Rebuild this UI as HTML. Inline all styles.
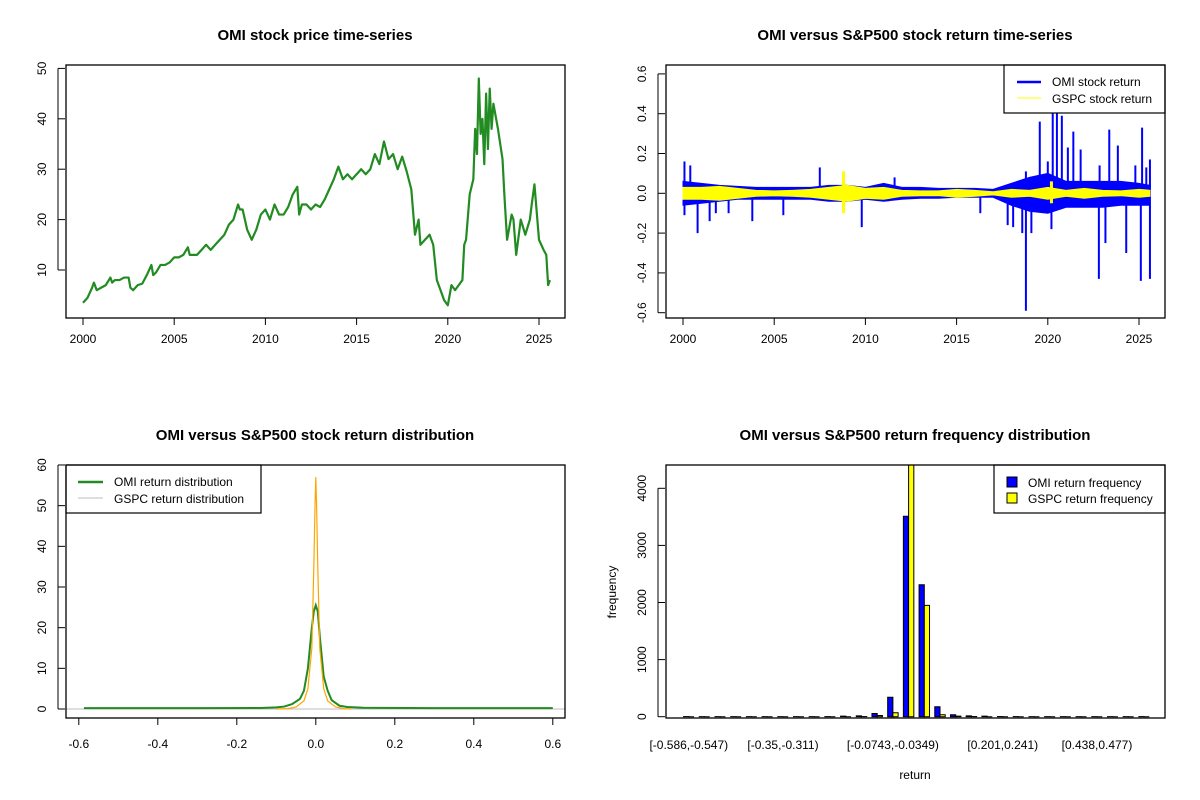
<!DOCTYPE html>
<html><head><meta charset="utf-8"><style>
html,body{margin:0;padding:0;background:#fff;}
svg{display:block;font-family:"Liberation Sans",Arial,sans-serif;}
</style></head><body>
<svg id="fig" width="1200" height="800" viewBox="0 0 1200 800" xmlns="http://www.w3.org/2000/svg">
<rect width="1200" height="800" fill="#fff"/>
</svg>
<script>
// ---------- DATA ----------
const priceYears = [2000,2000.25,2000.5,2000.6,2000.75,2001,2001.25,2001.5,2001.6,2001.75,2002,2002.25,2002.5,2002.6,2002.75,2003,2003.25,2003.5,2003.75,2003.85,2004,2004.25,2004.5,2004.75,2005,2005.25,2005.5,2005.75,2005.85,2006,2006.25,2006.5,2006.75,2007,2007.25,2007.5,2007.75,2008,2008.25,2008.5,2008.6,2008.75,2009,2009.25,2009.5,2009.75,2010,2010.25,2010.5,2010.75,2011,2011.25,2011.5,2011.75,2011.85,2012,2012.25,2012.5,2012.75,2013,2013.25,2013.5,2013.75,2014,2014.25,2014.5,2014.75,2015,2015.25,2015.5,2015.75,2016,2016.25,2016.5,2016.75,2017,2017.25,2017.5,2017.75,2018,2018.2,2018.4,2018.5,2018.75,2019,2019.2,2019.4,2019.6,2019.8,2020,2020.2,2020.4,2020.6,2020.8,2020.9,2021,2021.2,2021.4,2021.5,2021.6,2021.7,2021.8,2021.9,2022,2022.1,2022.2,2022.3,2022.4,2022.5,2022.75,2023,2023.1,2023.25,2023.5,2023.6,2023.75,2024,2024.25,2024.5,2024.6,2024.75,2025,2025.25,2025.4,2025.5,2025.6];
const priceValues = [3.5,4.5,6.5,7.5,6,6.5,7,8.5,7.5,8,8,8.5,8.5,6.5,6,7,7.3,9,11,9,9.5,11,11,11.5,12.5,12.5,13,14.5,13,13,13,14,15,14,15,16,17,19,20,23,22,22,18,16,18,21,22,20,23,21,21,22.5,25,26.5,21,23,23,22,23,22.5,24,26,28,30.5,28,29,28,29,30,29,30,33,31,35.5,32,33,30,32.5,29.5,26,17,20,15,16,17,15,8,6,4,3,7,6,7,8,15,16,25,28,38,33,48,37,40,31,45,34,46,38,43,38,32,25,16,21,20,13,20,17,20,23,27,16,14,13,7,8,5];
const priceTicksY = [10,20,30,40,50];
const yearTicks = [2000,2005,2010,2015,2020,2025];

const bandYears = [2000,2001,2002,2003,2004,2005,2006,2007,2008,2009,2010,2011,2012,2013,2014,2015,2016,2017,2018,2019,2020,2021,2022,2023,2024,2025,2025.6];
const omiBandUp = [.06,.05,.04,.035,.03,.03,.03,.03,.04,.04,.03,.05,.03,.03,.025,.025,.025,.02,.05,.08,.1,.06,.06,.06,.06,.05,.04];
const omiBandLow = [-.06,-.05,-.04,-.03,-.03,-.03,-.03,-.03,-.04,-.04,-.03,-.04,-.03,-.025,-.025,-.02,-.02,-.02,-.06,-.09,-.1,-.07,-.07,-.07,-.06,-.06,-.06];
const gspcBandAmp = [.03,.03,.035,.025,.015,.012,.015,.02,.03,.04,.025,.03,.015,.012,.012,.02,.015,.008,.02,.015,.03,.015,.025,.015,.012,.02,.015];
const spikeYears = [2000.08,2000.08,2000.4,2000.8,2001.46,2001.8,2002.5,2003.8,2005.5,2007.5,2009.8,2011.6,2016.3,2017.8,2018.1,2018.6,2018.8,2018.8,2019.1,2019.56,2020.0,2020.2,2020.27,2020.5,2020.77,2021.1,2021.4,2021.8,2022.8,2022.84,2023.16,2023.37,2023.84,2024.3,2024.8,2025.1,2025.17,2025.4,2025.6,2025.6];
const spikeValues = [0.16,-0.11,0.14,-0.20,-0.14,-0.10,-0.10,-0.14,-0.11,0.13,-0.17,0.08,-0.10,-0.16,-0.17,-0.20,-0.59,0.11,-0.20,0.36,0.16,-0.18,0.42,0.42,0.39,0.23,0.31,0.22,-0.43,0.14,-0.25,0.32,0.24,-0.30,0.14,-0.44,0.33,0.13,-0.43,0.17];
const gspcSpikeYears = [2008.8,2008.8,2020.2,2020.2];
const gspcSpikeValues = [0.11,-0.10,0.06,-0.05];
const returnTicksY = [-0.6,-0.4,-0.2,0.0,0.2,0.4,0.6];

const omiDensX = [-0.587,-0.3,-0.14,-0.1,-0.08,-0.06,-0.04,-0.03,-0.02,-0.01,-0.005,0,0.005,0.01,0.02,0.03,0.04,0.06,0.08,0.1,0.12,0.3,0.6];
const omiDensY = [0.2,0.2,0.25,0.4,0.6,1.2,2.5,4.5,10,20,24,25.5,24,18,8,4.5,2.2,0.8,0.5,0.4,0.3,0.2,0.2];
const gspcDensX = [-0.1,-0.07,-0.05,-0.03,-0.02,-0.01,-0.005,-0.002,0,0.002,0.005,0.01,0.02,0.03,0.05,0.07,0.09];
const gspcDensY = [0,0.1,0.5,2,5,15,35,50,57,50,35,15,5,2,0.5,0.1,0];
const densTicksX = [-0.6,-0.4,-0.2,0.0,0.2,0.4,0.6];
const densTicksY = [0,10,20,30,40,50,60];

const binLabels = ["[-0.586,-0.547)","[-0.35,-0.311)","[-0.0743,-0.0349)","[0.201,0.241)","[0.438,0.477)"];
const binLabelIdx = [0,6,13,20,26];
const omiFreq = [2,1,1,1,1,1,1,1,1,2,10,15,55,340,3510,2310,175,35,15,10,3,2,1,1,1,1,1,1,1,2];
const gspcFreq = [0,0,0,0,0,0,0,0,0,0,0,2,20,70,4470,1950,35,10,3,0,0,0,0,0,0,0,0,0,0,0];
const freqTicksY = [0,1000,2000,3000,4000];

// ---------- HELPERS ----------
const NS="http://www.w3.org/2000/svg";
const svg=document.getElementById('fig');
function mk(tag,attrs,parent){const e=document.createElementNS(NS,tag);for(const k in attrs)e.setAttribute(k,attrs[k]);(parent||svg).appendChild(e);return e;}
function txt(x,y,s,size,anchor,rot,weight,parent){const t=mk('text',{x:x,y:y,'font-size':size,'text-anchor':anchor||'middle',fill:'#000'},parent);if(weight)t.setAttribute('font-weight',weight);if(rot)t.setAttribute('transform','rotate(-90 '+x+' '+y+')');t.textContent=s;return t;}
function frame(g,x0,y0,x1,y1){const r=mk('rect',{x:x0,y:y0,width:x1-x0,height:y1-y0,fill:'none',stroke:'#000','stroke-width':1.3},g);}
function group(name){const g=mk('g',{});return g;}
function clip(id,x0,y0,x1,y1){const c=mk('clipPath',{id:id});mk('rect',{x:x0,y:y0,width:x1-x0,height:y1-y0},c);}

// ---------- PANEL 1 ----------
(function(){
 const g=group('price-panel');
 const X=y=>83+(y-2000)*18.24, Y=v=>270-(v-10)*5.04;
 const t=txt(315,40,'OMI stock price time-series',15,'middle',0,'bold',g);
 const ax=group('price-x-axis');g.appendChild(ax);
 mk('line',{x1:X(2000),x2:X(2025),y1:318,y2:318,stroke:'#000'},ax);
 yearTicks.forEach(y=>{mk('line',{x1:X(y),x2:X(y),y1:318,y2:325,stroke:'#000'},ax);txt(X(y),343,String(y),12,'middle',0,0,ax);});
 const ay=group('price-y-axis');g.appendChild(ay);
 mk('line',{x1:58,x2:58,y1:Y(10),y2:Y(50),stroke:'#000'},ay);
 priceTicksY.forEach(v=>{mk('line',{x1:58,x2:65,y1:Y(v),y2:Y(v),stroke:'#000'},ay);txt(46,Y(v),String(v),12,'middle',1,0,ay);});
 const p=mk('polyline',{points:priceYears.map((y,i)=>X(y)+','+Y(priceValues[i])).join(' '),fill:'none',stroke:'#228B22','stroke-width':2.2,'stroke-linejoin':'round'},g);
 
 frame(g,66,65,565,318);
})();

// ---------- PANEL 2 ----------
(function(){
 const g=group('return-panel');
 const X=y=>683+(y-2000)*18.24, Y=v=>193.3-v*199;
 clip('c2',666,65,1165,318);
 const t=txt(915,40,'OMI versus S&P500 stock return time-series',15,'middle',0,'bold',g);
 const ax=group('return-x-axis');g.appendChild(ax);
 mk('line',{x1:X(2000),x2:X(2025),y1:318,y2:318,stroke:'#000'},ax);
 yearTicks.forEach(y=>{mk('line',{x1:X(y),x2:X(y),y1:318,y2:325,stroke:'#000'},ax);txt(X(y),343,String(y),12,'middle',0,0,ax);});
 const ay=group('return-y-axis');g.appendChild(ay);
 mk('line',{x1:658,x2:658,y1:Y(-0.6),y2:Y(0.6),stroke:'#000'},ay);
 returnTicksY.forEach(v=>{mk('line',{x1:658,x2:665,y1:Y(v),y2:Y(v),stroke:'#000'},ay);txt(646,Y(v),v.toFixed(1),12,'middle',1,0,ay);});
 const d=mk('g',{'clip-path':'url(#c2)'},g);
 const up=bandYears.map((y,i)=>X(y)+','+Y(omiBandUp[i]));
 const lo=bandYears.map((y,i)=>X(y)+','+Y(omiBandLow[i])).reverse();
 const ob=mk('polygon',{points:up.concat(lo).join(' '),fill:'#0000FF',stroke:'#0000FF','stroke-width':1},d);
 
 spikeYears.forEach((y,i)=>{const l=mk('line',{x1:X(y),x2:X(y),y1:Y(0),y2:Y(spikeValues[i]),stroke:'#0000FF','stroke-width':2},d);
  });
 const gu=bandYears.map((y,i)=>X(y)+','+Y(gspcBandAmp[i]));
 const gl=bandYears.map((y,i)=>X(y)+','+Y(-gspcBandAmp[i])).reverse();
 const gb=mk('polygon',{points:gu.concat(gl).join(' '),fill:'#FFFF00',stroke:'#FFFF00','stroke-width':1},d);
 
 gspcSpikeYears.forEach((y,i)=>{const l=mk('line',{x1:X(y),x2:X(y),y1:Y(0),y2:Y(gspcSpikeValues[i]),stroke:'#FFFF00','stroke-width':3},d);
  });
 const lg=group('return-legend');g.appendChild(lg);
 mk('rect',{x:1004,y:65,width:161,height:48,fill:'#fff',stroke:'#000','stroke-width':1.2},lg);
 mk('line',{x1:1017,x2:1041,y1:82,y2:82,stroke:'#0000FF','stroke-width':2.5},lg);
 mk('line',{x1:1017,x2:1041,y1:98,y2:98,stroke:'#FFFF00','stroke-width':1},lg);
 txt(1052,86,'OMI stock return',12,'start',0,0,lg);
 txt(1052,103,'GSPC stock return',12,'start',0,0,lg);
 frame(g,666,65,1165,318);
})();

// ---------- PANEL 3 ----------
(function(){
 const g=group('density-panel');
 const X=v=>315.8+v*395, Y=v=>709-v*4.067;
 clip('c3',66,465,565,718);
 const t=txt(315,440,'OMI versus S&P500 stock return distribution',15,'middle',0,'bold',g);
 const ax=group('density-x-axis');g.appendChild(ax);
 mk('line',{x1:X(-0.6),x2:X(0.6),y1:718,y2:718,stroke:'#000'},ax);
 densTicksX.forEach(v=>{mk('line',{x1:X(v),x2:X(v),y1:718,y2:725,stroke:'#000'},ax);txt(X(v),748,v.toFixed(1),12,'middle',0,0,ax);});
 const ay=group('density-y-axis');g.appendChild(ay);
 mk('line',{x1:58,x2:58,y1:Y(0),y2:Y(60),stroke:'#000'},ay);
 densTicksY.forEach(v=>{mk('line',{x1:58,x2:65,y1:Y(v),y2:Y(v),stroke:'#000'},ay);txt(46,Y(v),String(v),12,'middle',1,0,ay);});
 const d=mk('g',{'clip-path':'url(#c3)'},g);
 mk('line',{x1:66,x2:565,y1:Y(0),y2:Y(0),stroke:'#BEBEBE','stroke-width':1},d);
 const a=mk('polyline',{points:omiDensX.map((x,i)=>X(x)+','+Y(omiDensY[i])).join(' '),fill:'none',stroke:'#228B22','stroke-width':2},d);
 
 const b=mk('polyline',{points:gspcDensX.map((x,i)=>X(x)+','+Y(gspcDensY[i])).join(' '),fill:'none',stroke:'#FFA500','stroke-width':1.2},d);
 
 const lg=group('density-legend');g.appendChild(lg);
 mk('rect',{x:66,y:465,width:195,height:48,fill:'#fff',stroke:'#000','stroke-width':1.2},lg);
 mk('line',{x1:78,x2:103,y1:482,y2:482,stroke:'#228B22','stroke-width':2.5},lg);
 mk('line',{x1:78,x2:103,y1:498,y2:498,stroke:'#BEBEBE','stroke-width':1},lg);
 txt(114,486,'OMI return distribution',12,'start',0,0,lg);
 txt(114,503,'GSPC return distribution',12,'start',0,0,lg);
 frame(g,66,465,565,718);
})();

// ---------- PANEL 4 ----------
(function(){
 const g=group('frequency-panel');
 const G=k=>688.8+15.7*k, Y=v=>716.7-v*0.0571, bw=5.23;
 clip('c4',666,465,1165,718);
 const t=txt(915,440,'OMI versus S&P500 return frequency distribution',15,'middle',0,'bold',g);
 const ax=group('frequency-x-axis');g.appendChild(ax);
 binLabelIdx.forEach((k,i)=>txt(G(k),749,binLabels[i],12,'middle',0,0,ax));
 const xt=txt(915,779,'return',12,'middle',0,0,g);
 const yt=txt(616,592,'frequency',12,'middle',1,0,g);
 const ay=group('frequency-y-axis');g.appendChild(ay);
 mk('line',{x1:658,x2:658,y1:Y(0),y2:Y(4000),stroke:'#000'},ay);
 freqTicksY.forEach(v=>{mk('line',{x1:658,x2:665,y1:Y(v),y2:Y(v),stroke:'#000'},ay);txt(646,Y(v),String(v),12,'middle',1,0,ay);});
 const d=mk('g',{'clip-path':'url(#c4)'},g);
 omiFreq.forEach((v,k)=>{const x0=G(k)-bw,y0=Y(v),y1=Y(0);
  const p=mk('path',{d:`M${x0},${y1}L${x0},${y0}L${x0+bw},${y0}L${x0+bw},${y1}Z`,fill:'#0000FF',stroke:'#000','stroke-width':1},d);
  });
 gspcFreq.forEach((v,k)=>{const x0=G(k),y0=Y(v),y1=Y(0);
  const p=mk('path',{d:`M${x0},${y1}L${x0},${y0}L${x0+bw},${y0}L${x0+bw},${y1}Z`,fill:'#FFFF00',stroke:'#000','stroke-width':1},d);
  });
 const lg=group('frequency-legend');g.appendChild(lg);
 mk('rect',{x:994,y:465,width:171,height:48,fill:'#fff',stroke:'#000','stroke-width':1.2},lg);
 mk('rect',{x:1007,y:477,width:10,height:10,fill:'#0000FF',stroke:'#000'},lg);
 mk('rect',{x:1007,y:493,width:10,height:10,fill:'#FFFF00',stroke:'#000'},lg);
 txt(1028,487,'OMI return frequency',12,'start',0,0,lg);
 txt(1028,503,'GSPC return frequency',12,'start',0,0,lg);
 frame(g,666,465,1165,718);
})();
</script>
</body></html>
